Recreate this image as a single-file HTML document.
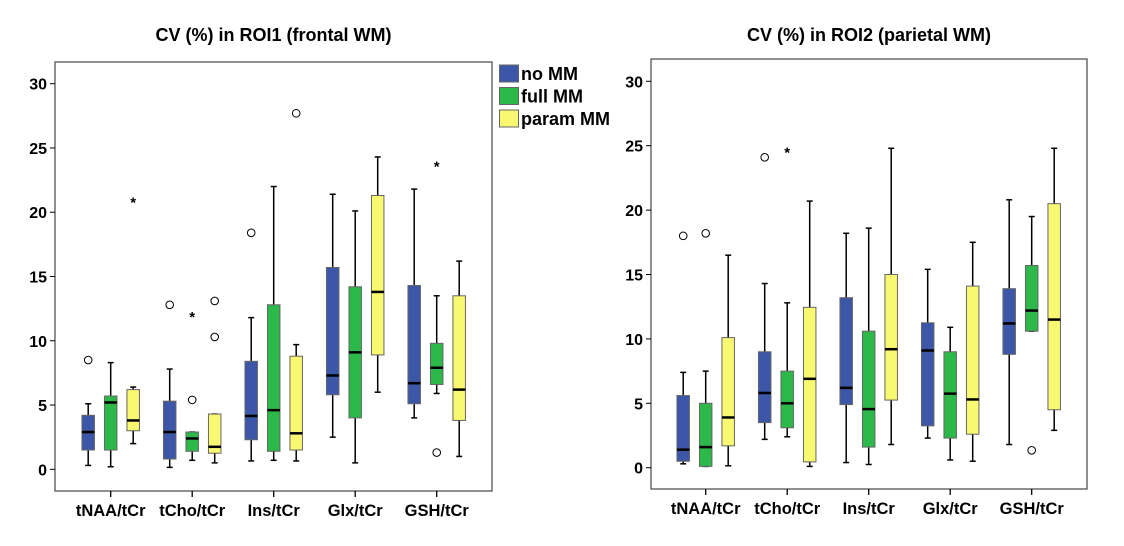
<!DOCTYPE html>
<html><head><meta charset="utf-8"><style>
body{margin:0;background:#fff;width:1124px;height:546px;overflow:hidden;font-family:"Liberation Sans",sans-serif}
svg{display:block}
text{font-family:"Liberation Sans",sans-serif;font-weight:bold;fill:#000}
</style></head><body>
<svg id="svg" width="1124" height="546"></svg>
<script>
const categories=["tNAA/tCr","tCho/tCr","Ins/tCr","Glx/tCr","GSH/tCr"];
const seriesNames=["no MM","full MM","param MM"];
const yTicks=[0,5,10,15,20,25,30];
// each box: [whiskerLow, q1, median, q3, whiskerHigh]
const roi1NoMM=[[0.3,1.5,2.9,4.2,5.1],[0.15,0.8,2.9,5.3,7.8],[0.65,2.3,4.15,8.4,11.8],[2.5,5.8,7.3,15.7,21.4],[4.0,5.1,6.7,14.3,21.8]];
const roi1Full=[[0.2,1.5,5.2,5.7,8.3],[0.7,1.4,2.4,2.9,2.9],[0.7,1.4,4.6,12.8,22.0],[0.5,4.0,9.1,14.2,20.1],[5.9,6.6,7.9,9.8,13.5]];
const roi1Param=[[2.0,3.0,3.8,6.2,6.4],[0.5,1.25,1.75,4.3,4.3],[0.65,1.5,2.8,8.8,9.7],[6.0,8.9,13.8,21.3,24.3],[1.0,3.8,6.2,13.5,16.2]];
// outliers: [category, series, value, type]
const roi1Outliers=[[0,0,8.5,"o"],[0,2,21.0,"*"],[1,0,12.8,"o"],[1,1,5.4,"o"],[1,1,12.1,"*"],[1,2,10.3,"o"],[1,2,13.1,"o"],[2,0,18.4,"o"],[2,2,27.7,"o"],[4,1,1.3,"o"],[4,1,23.8,"*"]];
const roi2NoMM=[[0.3,0.5,1.4,5.6,7.4],[2.2,3.5,5.8,9.0,14.3],[0.4,4.9,6.2,13.2,18.2],[2.3,3.25,9.1,11.25,15.4],[1.8,8.8,11.2,13.9,20.8]];
const roi2Full=[[0.1,0.1,1.6,5.0,7.5],[2.4,3.1,5.0,7.5,12.8],[0.25,1.6,4.55,10.6,18.6],[0.6,2.3,5.75,9.0,10.9],[10.6,10.6,12.2,15.7,19.5]];
const roi2Param=[[0.15,1.7,3.9,10.1,16.5],[0.1,0.45,6.9,12.45,20.7],[1.8,5.25,9.2,15.0,24.8],[0.5,2.6,5.3,14.1,17.5],[2.9,4.5,11.5,20.5,24.8]];
const roi2Outliers=[[0,0,18.0,"o"],[0,1,18.2,"o"],[1,0,24.1,"o"],[1,1,24.7,"*"],[4,1,1.35,"o"]];

const colors=["#3c56a8","#2db84a","#f9f871"];
const NS="http://www.w3.org/2000/svg";
const svg=document.getElementById("svg");
function mk(tag,attrs,parent){const e=document.createElementNS(NS,tag);for(const k in attrs)e.setAttribute(k,attrs[k]);(parent||svg).appendChild(e);return e;}

function chart(cfg,series,outliers){
  const g=mk("g",{});
  
  
  const y=v=>cfg.y0-(v/30)*(cfg.y0-cfg.y30);
  const x=(ci,si)=>cfg.c0+ci*cfg.step+(si-1)*22.5;
  const t=mk("text",{x:(cfg.left+cfg.right)/2,y:41,"text-anchor":"middle","font-size":"18"},g);
  t.textContent=cfg.title;
  
  
  const f=mk("rect",{x:cfg.left,y:cfg.top,width:cfg.right-cfg.left,height:cfg.bottom-cfg.top,fill:"none",stroke:"#555","stroke-width":1.3},g);
  
  
  yTicks.forEach(v=>{
    mk("line",{x1:cfg.left-5,x2:cfg.left,y1:y(v),y2:y(v),stroke:"#000"},g);
    const l=mk("text",{x:cfg.left-8,y:y(v)+6,"text-anchor":"end","font-size":"16"},g);
    l.textContent=v;
    
    
  });
  categories.forEach((c,ci)=>{
    const cx=x(ci,1);
    mk("line",{x1:cx,x2:cx,y1:cfg.bottom,y2:cfg.bottom+6,stroke:"#000","stroke-width":1.3},g);
    const l=mk("text",{x:cx,y:cfg.bottom+25,"text-anchor":"middle","font-size":"16.5"},g);
    l.textContent=c;
    
    
  });
  series.forEach((arr,si)=>{
    arr.forEach((b,ci)=>{
      const cx=x(ci,si),w=12.5;
      const bg=mk("g",{},g);
      
      
      mk("line",{x1:cx,x2:cx,y1:y(b[0]),y2:y(b[4]),stroke:"#000","stroke-width":1.5},bg);
      mk("line",{x1:cx-3,x2:cx+3,y1:y(b[0]),y2:y(b[0]),stroke:"#000","stroke-width":1.5},bg);
      mk("line",{x1:cx-3,x2:cx+3,y1:y(b[4]),y2:y(b[4]),stroke:"#000","stroke-width":1.5},bg);
      mk("rect",{x:cx-w/2,y:y(b[3]),width:w,height:Math.max(0.5,y(b[1])-y(b[3])),fill:colors[si],stroke:"#666","stroke-width":1},bg);
      mk("line",{x1:cx-w/2,x2:cx+w/2,y1:y(b[2]),y2:y(b[2]),stroke:"#000","stroke-width":2.5},bg);
    });
  });
  outliers.forEach(o=>{
    const cx=x(o[0],o[1]),cy=y(o[2]);
    let e;
    if(o[3]==="o") e=mk("circle",{cx:cx,cy:cy,r:3.8,fill:"none",stroke:"#000","stroke-width":1},g);
    else {e=mk("text",{x:cx,y:cy+8,"text-anchor":"middle","font-size":"15","font-weight":"normal"},g);e.textContent="*";}
    
    
  });
}
chart({name:"roi1-chart",title:"CV (%) in ROI1 (frontal WM)",left:55,right:492,top:62,bottom:491,y0:469.3,y30:83.7,c0:110.7,step:81.5},[roi1NoMM,roi1Full,roi1Param],roi1Outliers);
chart({name:"roi2-chart",title:"CV (%) in ROI2 (parietal WM)",left:651,right:1087,top:59,bottom:489,y0:467.7,y30:81.3,c0:705.7,step:81.5},[roi2NoMM,roi2Full,roi2Param],roi2Outliers);

const lg=mk("g",{});


seriesNames.forEach((n,i)=>{
  const yy=65+i*22.5;
  mk("rect",{x:499.5,y:yy,width:19,height:17,fill:colors[i],stroke:"#666"},lg);
  const t=mk("text",{x:521,y:yy+15,"font-size":"18"},lg);
  t.textContent=n;
  
  
});
</script>
</body></html>
